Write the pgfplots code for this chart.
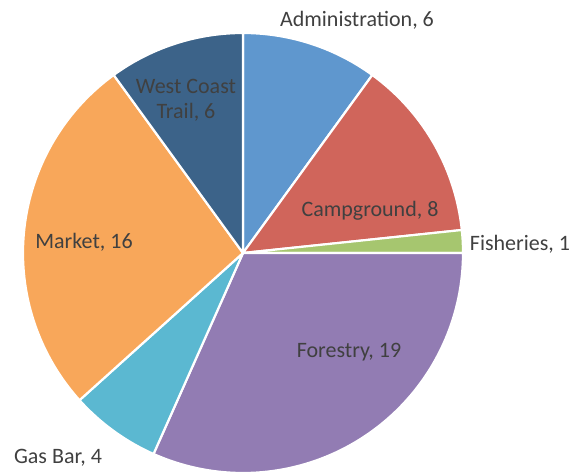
\documentclass[border=0pt]{standalone}
\usepackage{pgfplots}
\pgfplotsset{compat=1.18}
\usepackage{fontspec}
\setmainfont{Carlito}
\definecolor{cAdm}{HTML}{5F97CE}
\definecolor{cCamp}{HTML}{D0655B}
\definecolor{cFish}{HTML}{A6C66F}
\definecolor{cFor}{HTML}{927CB3}
\definecolor{cGas}{HTML}{5BB8D1}
\definecolor{cMkt}{HTML}{F8A75A}
\definecolor{cWct}{HTML}{3C6389}
\definecolor{txt}{HTML}{404040}
% values: Administration 6, Campground 8, Fisheries 1, Forestry 19, Gas Bar 4, Market 16, West Coast Trail 6 (total 60)
% slice(#1 = cumulative start, #2 = cumulative end, #3 = colour); angle = 90 - 360*v/60, clockwise from top
\newcommand{\slice}[3]{%
  \addplot[fill=#3, draw=white, line width=2.2pt, line join=round, domain={90-6*(#2)}:{90-6*(#1)}, samples=80, variable=\t]
    ({243+220*cos(\t)},{221+220*sin(\t)}) -- (axis cs:243,221) -- cycle;
}
\begin{document}
\begin{tikzpicture}
\begin{axis}[
  width=574bp, height=474bp, scale only axis,
  xmin=0, xmax=574, ymin=0, ymax=474,
  hide axis, clip=false,
]
\slice{0}{6}{cAdm}
\slice{6}{14}{cCamp}
\slice{14}{15}{cFish}
\slice{15}{34}{cFor}
\slice{34}{38}{cGas}
\slice{38}{54}{cMkt}
\slice{54}{60}{cWct}
\begin{scope}[every node/.style={text=txt, font=\fontsize{22bp}{25bp}\selectfont, inner sep=0pt}]
\node at (axis cs:357,454) {Administration, 6};
\node at (axis cs:370,263) {Campground, 8};
\node at (axis cs:520,230) {Fisheries, 1};
\node at (axis cs:349,122) {Forestry, 19};
\node at (axis cs:58,16) {Gas Bar, 4};
\node at (axis cs:84,232) {Market, 16};
\node[align=center] at (axis cs:186,374) {West Coast\\Trail, 6};
\end{scope}
\end{axis}
\pgfresetboundingbox
\useasboundingbox (current axis.south west) rectangle (current axis.north east);
\end{tikzpicture}
\end{document}
